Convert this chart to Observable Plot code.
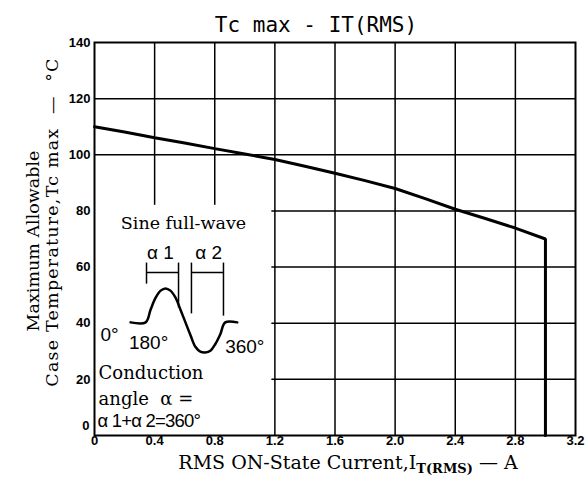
<!DOCTYPE html>
<html><head><meta charset="utf-8">
<script src="https://cdn.jsdelivr.net/npm/d3@7"></script>
<script src="https://cdn.jsdelivr.net/npm/@observablehq/plot@0.6"></script>
<style>body{margin:0;background:#fff} svg{display:block}</style>
</head><body><div id="chart"></div>
<script>
// ---- data ----
const current = [0, 0.2, 0.4, 0.6, 0.8, 1.0, 1.2, 1.4, 1.6, 1.8, 2.0, 2.2, 2.4, 2.6, 2.8, 3.0, 3.0];
const tcMax   = [110, 108.1, 106.1, 104.2, 102.2, 100.3, 98.3, 95.9, 93.4, 90.8, 88.0, 84.4, 80.6, 77.3, 73.9, 70.0, 0];
const xTicks = [0, 0.4, 0.8, 1.2, 1.6, 2.0, 2.4, 2.8, 3.2];
const xTickLabels = ["0", "0.4", "0.8", "1.2", "1.6", "2.0", "2.4", "2.8", "3.2"];
const yTicks = [0, 20, 40, 60, 80, 100, 120, 140];
const yTickLabels = ["0", "20", "40", "60", "80", "100", "120", "140"];
const titleText = "Tc max - IT(RMS)";
const yLabel1 = "Maximum Allowable";
const yLabel2 = "Case Temperature,Tc max\u00A0\u00A0\u2014\u00A0\u00A0\u00B0C";

// ---- inset diagram (annotation, in data units) ----
const insetBox = [{x1: 0, x2: 1.18, y1: 0, y2: 82}];
const waveX = [0.24, 0.34, 0.373, 0.406, 0.44, 0.4725, 0.505, 0.54, 0.572, 0.605, 0.638, 0.671, 0.704, 0.7375, 0.771, 0.804, 0.837, 0.87, 0.95];
const waveY = [40.3, 40.3, 44.8, 49.0, 51.6, 52.4, 51.6, 49.0, 44.8, 40.3, 35.8, 31.6, 29.9, 29.6, 30.2, 32.6, 36.1, 40.3, 40.3];
const bracketLines = [
  {x1: 0.346, y1: 61.6, x2: 0.346, y2: 54.1},
  {x1: 0.559, y1: 61.6, x2: 0.559, y2: 45.6},
  {x1: 0.346, y1: 58.1, x2: 0.559, y2: 58.1},
  {x1: 0.645, y1: 61.6, x2: 0.645, y2: 43.5},
  {x1: 0.858, y1: 61.6, x2: 0.858, y2: 42.7},
  {x1: 0.645, y1: 58.1, x2: 0.858, y2: 58.1}
];
const headNote = [{x: 0.592, y: 75.6, t: "Sine full-wave"}];
const serifNotes = [
  {x: 0.027, y: 22.2, t: "Conduction"},
  {x: 0.027, y: 13.0, t: "angle\u00A0\u00A0\u03B1 ="}
];
const centerNotes = [
  {x: 0.439, y: 65.2, t: "\u03B1 1"},
  {x: 0.759, y: 65.2, t: "\u03B1 2"},
  {x: 0.36, y: 33.0, t: "180\u00B0"},
  {x: 1.00, y: 31.4, t: "360\u00B0"}
];
const startNotes = [
  {x: 0.04, y: 36.0, t: "0\u00B0"}
];
const formulaNote = [{x: 0.02, y: 5.3, t: "\u03B1 1+\u03B1 2=360\u00B0"}];

const curve = current.map((c, i) => ({x: c, y: tcMax[i]}));
const wave = waveX.map((x, i) => ({x, y: waveY[i]}));

const sans = "'Liberation Sans', Arial, sans-serif";
const serif = "'DejaVu Serif', 'Liberation Serif', serif";
const mono = "'DejaVu Sans Mono', monospace";

const chart = Plot.plot({
  width: 586, height: 486,
  marginLeft: 94, marginRight: 11, marginTop: 42, marginBottom: 51,
  x: {domain: [0, 3.2], axis: null},
  y: {domain: [0, 140], axis: null},
  style: {background: "white", color: "black"},
  marks: [
    Plot.ruleX(xTicks.slice(1, -1), {x: d => d, stroke: "black", strokeWidth: 1.5}),
    Plot.ruleY(yTicks.slice(1, -1), {y: d => d, stroke: "black", strokeWidth: 1.5}),
    Plot.rect(insetBox, {x1: "x1", x2: "x2", y1: "y1", y2: "y2", fill: "white"}),
    Plot.text(headNote, {x: "x", y: "y", text: "t", textAnchor: "middle", fontFamily: serif, fontSize: 17.5, fill: "black",
      stroke: "white", strokeWidth: 5, paintOrder: "stroke"}),
    Plot.frame({stroke: "black", strokeWidth: 2}),
    Plot.line(curve, {x: "x", y: "y", stroke: "black", strokeWidth: 3, strokeLinejoin: "miter"}),
    // inset
    Plot.line(wave, {x: "x", y: "y", stroke: "black", strokeWidth: 2.5, curve: "catmull-rom"}),
    Plot.link(bracketLines, {x1: "x1", y1: "y1", x2: "x2", y2: "y2", stroke: "black", strokeWidth: 1.5}),
    Plot.text(serifNotes, {x: "x", y: "y", text: "t", textAnchor: "start", fontFamily: serif, fontSize: 18, fill: "black"}),
    Plot.text(centerNotes, {x: "x", y: "y", text: "t", textAnchor: "middle", fontFamily: sans, fontSize: 19, fill: "black"}),
    Plot.text(startNotes, {x: "x", y: "y", text: "t", textAnchor: "start", fontFamily: sans, fontSize: 19, fill: "black"}),
    Plot.text(formulaNote, {x: "x", y: "y", text: "t", textAnchor: "start", fontFamily: sans, fontSize: 18.5, fill: "black", className: "formula"}),
    // tick labels
    Plot.text(xTicks, {x: d => d, frameAnchor: "bottom", dy: 9, text: (d, i) => xTickLabels[i],
      fontFamily: sans, fontWeight: "bold", fontSize: 13, fill: "black"}),
    Plot.text(yTicks.slice(1), {y: d => d, frameAnchor: "left", dx: -4, textAnchor: "end", text: (d, i) => yTickLabels[i + 1],
      fontFamily: sans, fontWeight: "bold", fontSize: 13, fill: "black"}),
    Plot.text(yTicks.slice(0, 1), {y: d => d, frameAnchor: "left", dx: -5, dy: -10, textAnchor: "end", text: (d, i) => yTickLabels[i],
      fontFamily: sans, fontWeight: "bold", fontSize: 13, fill: "black"}),
    // axis titles
    Plot.text([yLabel1], {frameAnchor: "left", dx: -61, dy: 2, rotate: -90, textAnchor: "middle", text: d => d, fontFamily: serif, fontSize: 17.5, fill: "black"}),
    Plot.text([yLabel2], {frameAnchor: "left", dx: -42, dy: -17, rotate: -90, textAnchor: "middle", text: d => d, className: "ylab2", fontFamily: serif, fontSize: 17.5, fill: "black"}),
    Plot.text(["xlabel"], {frameAnchor: "bottom", dy: 33, dx: 13, text: d => d, className: "xlab", fontFamily: serif, fontSize: 19, fill: "black"}),
    Plot.text([titleText], {frameAnchor: "top", dy: -25, dx: -19, text: d => d, fontFamily: mono, fontSize: 21, fill: "black"})
  ]
});
document.getElementById("chart").appendChild(chart);

// x label with subscript
const xl = d3.select(chart).select("g.xlab text");
if (!xl.empty()) {
  xl.text(null);
  xl.append("tspan").text("RMS ON-State Current,I");
  xl.append("tspan").attr("dy", 4).attr("font-size", 13).attr("font-weight", "bold").text("T(RMS)");
  xl.append("tspan").attr("dy", -4).text("\u00A0\u2014\u00A0A");
}
d3.select(chart).select("g.ylab2 text").attr("letter-spacing", "1.2px");
d3.select(chart).select("g.formula text").attr("letter-spacing", "-0.8px");
</script></body></html>
